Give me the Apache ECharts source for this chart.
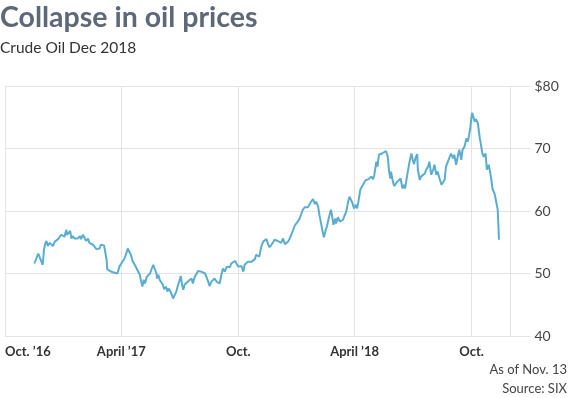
<!DOCTYPE html>
<html>
<head>
<meta charset="utf-8">
<script src="https://cdn.jsdelivr.net/npm/echarts@6/dist/echarts.min.js"></script>
<style>
html,body{margin:0;padding:0;background:#fff;}
#chart{width:569px;height:398px;}
</style>
</head>
<body>
<div id="chart"></div>
<script>
// ---- Data ----
const titleText = 'Collapse in oil prices';
const subtitleText = 'Crude Oil Dec 2018';
const footnotes = ['As of Nov. 13', 'Source: SIX'];

// Dates are stored as day offsets from this base date
const baseDate = [2016, 9, 1]; // Oct 1, 2016 (month is 0-based)
const dayOffsets = [
  46,49,52,54,57,59,61,63,65,67,70,72,75,78,80,83,85,88,91,93,
  96,97,100,102,104,106,109,111,114,117,119,122,125,127,130,132,135,138,140,143,
  145,148,150,152,155,157,159,160,164,169,172,176,179,182,187,190,192,195,197,200,
  203,205,208,211,213,215,217,219,222,224,227,229,232,234,237,238,240,242,245,247,
  249,252,254,256,259,261,263,266,268,271,274,275,277,279,281,284,287,289,292,294,
  297,300,302,305,307,310,313,315,318,320,323,326,328,331,333,336,339,341,344,347,
  349,352,354,357,360,362,365,367,370,373,375,378,380,383,386,388,391,393,398,401,
  404,406,409,412,414,417,419,422,425,427,430,432,435,438,440,443,445,448,451,453,
  456,458,461,464,466,469,472,474,477,479,482,485,487,490,492,495,498,499,502,504,
  506,510,512,514,517,518,521,524,526,529,531,534,537,539,542,544,546,549,551,553,
  556,558,561,564,566,569,573,576,578,581,583,585,588,590,593,596,598,599,601,603,
  604,607,609,611,614,616,619,622,624,626,629,632,633,636,638,640,642,645,646,649,
  651,654,657,659,662,664,667,670,672,675,677,680,683,685,688,690,693,696,698,701,
  703,706,709,711,714,716,719,722,724,726,728,730,731,733,735,737,740,743,744,747,
  749,752,754,757,759,761,763,766,768,771,773
];
const prices = [
  51.6,51.7,53.2,53.5,51.9,51.4,53.8,54.8,55.2,54.4,54.9,54.7,54.4,55.1,54.8,55.5,55.2,56.2,56.3,55.9,
  57.0,56.2,56.5,56.8,55.6,56.0,55.6,55.9,55.6,56.0,55.5,56.2,55.9,55.2,55.6,54.9,54.8,54.6,54.4,53.9,
  54.2,54.0,54.6,54.3,54.5,54.3,52.2,50.7,50.4,50.2,49.9,50.0,51.1,51.6,52.4,53.3,54.0,53.9,53.0,51.9,
  51.4,51.0,50.7,49.8,48.7,47.9,49.0,48.4,49.5,49.8,50.0,50.6,51.4,51.4,50.0,49.2,49.8,49.0,48.7,48.2,
  47.5,47.9,47.1,47.6,47.1,46.6,46.0,46.3,47.1,48.2,49.2,49.6,48.2,47.4,48.2,48.4,48.8,48.7,49.2,48.4,
  49.5,50.0,50.4,50.1,50.3,50.1,50.0,49.5,48.7,48.0,48.7,48.4,49.2,48.7,49.0,48.4,50.0,50.8,50.3,51.1,
  51.4,51.0,51.6,51.5,52.0,51.9,51.1,50.8,51.2,50.3,51.4,51.6,51.9,51.6,51.9,52.0,52.3,53.0,52.7,54.3,
  55.1,55.2,55.5,54.6,54.2,54.6,54.7,55.4,55.6,55.2,55.5,54.9,55.6,54.7,54.4,55.1,55.5,56.2,57.0,57.6,
  57.8,58.3,58.8,59.1,60.2,60.6,60.7,60.6,60.7,61.5,61.9,61.1,61.5,60.7,59.4,57.8,56.2,55.8,57.0,57.6,
  58.6,60.2,59.1,57.8,58.8,58.0,59.0,58.3,58.6,58.6,59.2,59.9,61.5,62.3,62.2,61.2,60.4,61.0,60.4,61.5,
  63.4,63.8,64.0,64.9,65.2,65.1,65.5,65.1,65.8,67.9,67.1,69.0,69.2,69.2,69.5,69.6,69.9,68.7,66.3,65.2,
  66.3,64.7,64.0,64.2,64.7,65.0,65.2,63.6,64.2,63.6,65.5,65.8,67.9,69.2,68.2,67.5,68.4,69.1,66.6,65.0,
  65.5,65.8,66.0,66.6,67.1,67.9,65.8,66.6,67.4,65.8,66.3,65.2,64.2,64.4,65.0,67.1,67.9,68.2,69.2,68.4,
  69.0,67.4,69.0,69.8,68.2,69.8,70.3,71.6,71.1,72.0,73.2,75.1,75.7,76.0,74.3,74.7,74.0,71.6,71.1,69.2,
  68.7,69.2,66.6,67.4,66.3,65.0,63.5,62.8,61.8,60.2,55.4
];

const xRange = ['2016-10-01', '2018-12-01'];
const xTickDates = ['2016-10-01', '2017-04-01', '2017-10-01', '2018-04-01', '2018-10-01'];
const xTickLabels = ['Oct. \u201916', 'April \u201917', 'Oct.', 'April \u201918', 'Oct.'];
const yTickValues = [40, 50, 60, 70, 80];
const yTickLabels = ['40', '50', '60', '70', '$80'];

// ---- Build ----
const parse = (s) => echarts.time.parse(s).getTime();
const seriesData = dayOffsets.map((d, i) => [
  new Date(baseDate[0], baseDate[1], baseDate[2] + d).getTime(),
  prices[i]
]);
const xTickValues = xTickDates.map(parse);
const gridColor = '#e3e3e3';
const FONT = 'Lato, "Noto Sans", sans-serif';

const chart = echarts.init(document.getElementById('chart'), null, {renderer: 'canvas'});
chart.setOption({
  animation: false,
  backgroundColor: '#fff',
  title: {
    text: titleText,
    subtext: subtitleText,
    left: 0,
    top: 3,
    padding: 0,
    itemGap: 8,
    textStyle: {fontFamily: FONT, fontSize: 28.5, fontWeight: 'bold', color: '#5e6878'},
    subtextStyle: {fontFamily: FONT, fontSize: 15.5, color: '#333'}
  },
  grid: {left: 5, right: 58.5, top: 86, bottom: 62, containLabel: false},
  xAxis: {
    type: 'value',
    min: parse(xRange[0]),
    max: parse(xRange[1]),
    axisLine: {show: false},
    axisTick: {show: false, customValues: xTickValues},
    axisLabel: {
      customValues: xTickValues,
      alignMinLabel: 'left',
      margin: 9,
      fontFamily: FONT,
      fontSize: 13,
      fontWeight: 'bold',
      color: '#333',
      formatter: (v) => {
        const i = xTickValues.indexOf(v);
        return i >= 0 ? xTickLabels[i] : '';
      }
    },
    splitLine: {show: true, lineStyle: {color: gridColor, width: 1}}
  },
  yAxis: {
    type: 'value',
    position: 'right',
    min: 40,
    max: 80,
    interval: 10,
    axisLine: {show: true, lineStyle: {color: gridColor, width: 1}},
    axisTick: {show: true, length: 20, lineStyle: {color: gridColor, width: 1}},
    axisLabel: {
      margin: 24,
      fontFamily: FONT,
      fontSize: 14,
      color: '#444',
      formatter: (v) => {
        const i = yTickValues.indexOf(v);
        return i >= 0 ? yTickLabels[i] : '';
      }
    },
    splitLine: {show: true, lineStyle: {color: gridColor, width: 1}}
  },
  graphic: [
    {type: 'text', right: 2, top: 363, style: {text: footnotes[0], fontFamily: FONT, fontSize: 13, fill: '#444', textAlign: 'right'}},
    {type: 'text', right: 2, top: 382, style: {text: footnotes[1], fontFamily: FONT, fontSize: 13, fill: '#444', textAlign: 'right'}}
  ],
  series: [{
    type: 'line',
    data: seriesData,
    showSymbol: false,
    symbol: 'none',
    lineStyle: {color: '#5aadd0', width: 2},
    itemStyle: {color: '#5aadd0'},
    emphasis: {disabled: true}
  }]
});
</script>
</body>
</html>
